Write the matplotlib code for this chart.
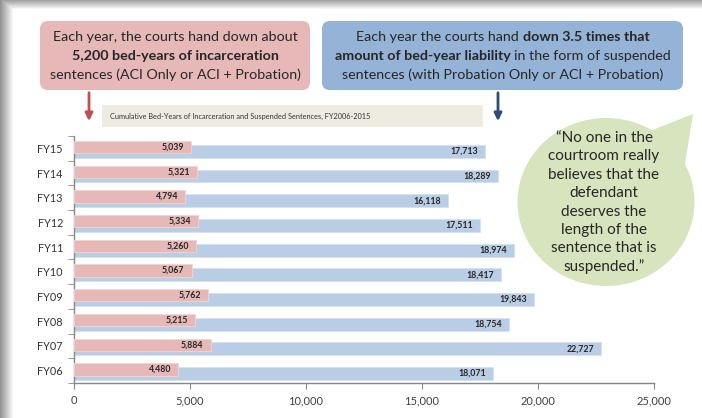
import numpy as np
import matplotlib
matplotlib.use("Agg")
import matplotlib.pyplot as plt
from matplotlib.patches import FancyBboxPatch, Rectangle, Ellipse, Polygon

plt.rcParams['font.family'] = ['Lato', 'DejaVu Sans']

# ---------------- data ----------------
years = ["FY06", "FY07", "FY08", "FY09", "FY10", "FY11", "FY12", "FY13", "FY14", "FY15"]
incarceration = [4480, 5884, 5215, 5762, 5067, 5260, 5334, 4794, 5321, 5039]
suspended = [18071, 22727, 18754, 19843, 18417, 18974, 17511, 16118, 18289, 17713]
xticks = [0, 5000, 10000, 15000, 20000, 25000]
xtick_labels = ["0", "5,000", "10,000", "15,000", "20,000", "25,000"]
chart_title = "Cumulative Bed-Years of Incarceration and Suspended Sentences, FY2006-2015"
quote_lines = ["\u201cNo one in the", "courtroom really", "believes that the", "defendant",
               "deserves the", "length of the", "sentence that is", "suspended.\u201d"]

W, H = 702, 418
fig = plt.figure(figsize=(W / 100, H / 100), dpi=100)

# ---------- overlay (pixel coordinates) ----------
ov = fig.add_axes([0, 0, 1, 1], zorder=0)
ov.set_xlim(0, W)
ov.set_ylim(H, 0)
ov.axis('off')

# frame shadow
xx = np.arange(W)
yy = np.arange(H)
left = np.clip((13 - xx) / 13.0, 0, 1)
top = np.clip((9 - yy) / 9.0, 0, 1)
dark = np.maximum(left[None, :] * 0.42, top[:, None] * 0.36)
ov.imshow(1 - dark, cmap='gray', vmin=0, vmax=1, extent=[0, W, H, 0], aspect='auto',
          interpolation='bilinear', zorder=0)

# ---------- main chart ----------
ax = fig.add_axes([74 / W, (H - 383) / H, 580 / W, 247 / H], zorder=1)
ax.set_facecolor('none')
pos = np.arange(len(years))
red_c = "#e6b9b8"
blue_c = "#b9cde5"
red_off, blue_off = 0.05, -0.12
ax.barh(pos + blue_off, suspended, height=0.52, color=blue_c, edgecolor="#d5e1f0", linewidth=0.6, zorder=2)
ax.barh(pos + red_off, incarceration, height=0.5, color=red_c, edgecolor="#f0d5d4", linewidth=0.6, zorder=3)
for p, v in zip(pos, incarceration):
    ax.text(v - 300, p + red_off, f"{v:,}", ha='right', va='center', fontsize=6.3,
            fontweight='bold', color='#262626', zorder=4)
for p, v in zip(pos, suspended):
    ax.text(v - 300, p + blue_off, f"{v:,}", ha='right', va='center', fontsize=6.3,
            fontweight='bold', color='#262626', zorder=4)

ax.set_xlim(0, 25000)
ax.set_ylim(-0.5, len(years) - 0.5)
ax.set_xticks(xticks)
ax.set_xticklabels(xtick_labels, fontsize=8, color='#404040')
ax.set_yticks(pos)
ax.set_yticklabels(years, fontsize=7.8, color='#333333')
ax.set_yticks(np.arange(-0.5, len(years), 1), minor=True)
ax.tick_params(axis='y', which='major', length=0, pad=8)
ax.tick_params(axis='y', which='minor', length=4, color='#868686', direction='out')
ax.tick_params(axis='x', which='major', length=4, color='#868686', direction='out', pad=5)
for s in ['top', 'right']:
    ax.spines[s].set_visible(False)
for s in ['left', 'bottom']:
    ax.spines[s].set_color('#868686')
    ax.spines[s].set_linewidth(1.0)

# ---------- annotations on top overlay ----------
ov2 = fig.add_axes([0, 0, 1, 1], zorder=2)
ov2.set_xlim(0, W)
ov2.set_ylim(H, 0)
ov2.axis('off')
ov2.patch.set_alpha(0)

# boxes
ov2.add_patch(FancyBboxPatch((40 + 8, 21 + 8), 270 - 16, 69 - 16,
                             boxstyle="round,pad=8", facecolor="#e6b9b8", edgecolor='none'))
ov2.add_patch(FancyBboxPatch((322 + 8, 21 + 8), 361 - 16, 69 - 16,
                             boxstyle="round,pad=8", facecolor="#95b3d7", edgecolor='none'))

# title box
ov2.add_patch(Rectangle((102, 105), 381, 22, facecolor="#eeece1", edgecolor='none'))
ov2.text(110, 116.5, chart_title, fontsize=5.3, color='#333333', ha='left', va='center')

# arrows
ov2.annotate("", xy=(89, 124), xytext=(89, 90),
             arrowprops=dict(arrowstyle="-|>,head_length=0.45,head_width=0.22", color="#c0504d", lw=2.0))
ov2.annotate("", xy=(498, 124), xytext=(498, 90),
             arrowprops=dict(arrowstyle="-|>,head_length=0.45,head_width=0.22", color="#2c4d75", lw=2.0))

renderer = fig.canvas.get_renderer()
TXT = '#262626'
FS = 10.3


def width_of(s, bold):
    t = ov2.text(0, 0, s, fontsize=FS, fontweight='bold' if bold else 'normal')
    w = t.get_window_extent(renderer).width
    t.remove()
    return w


def mixed_line(xc, y, segs):
    sp = width_of("x x", False) - width_of("xx", False)
    widths = [width_of(s, b) for s, b in segs]
    total = sum(widths) + sp * (len(segs) - 1)
    x = xc - total / 2
    for (s, b), w in zip(segs, widths):
        ov2.text(x, y, s, fontsize=FS, fontweight='bold' if b else 'normal', color=TXT,
                 ha='left', va='center')
        x += w + sp


mixed_line(175, 37, [("Each year, the courts hand down about", False)])
mixed_line(175, 56, [("5,200 bed-years of incarceration", True)])
mixed_line(175, 75, [("sentences (ACI Only or ACI + Probation)", False)])

mixed_line(503, 37, [("Each year the courts hand", False), ("down 3.5 times that", True)])
mixed_line(503, 56, [("amount of bed-year liability", True), ("in the form of suspended", False)])
mixed_line(503, 75, [("sentences (with Probation Only or ACI + Probation)", False)])

# speech bubble
green = "#d7e4bd"
ov2.add_patch(Ellipse((606, 202), 177, 168, facecolor=green, edgecolor='none'))
ov2.add_patch(Polygon([(640, 135), (693, 114), (684, 170)], closed=True, facecolor=green, edgecolor='none'))
for i, line in enumerate(quote_lines):
    ov2.text(604, 138 + i * 18.4, line, fontsize=11, color=TXT, ha='center', va='center')

fig.savefig("out.png", dpi=100)
